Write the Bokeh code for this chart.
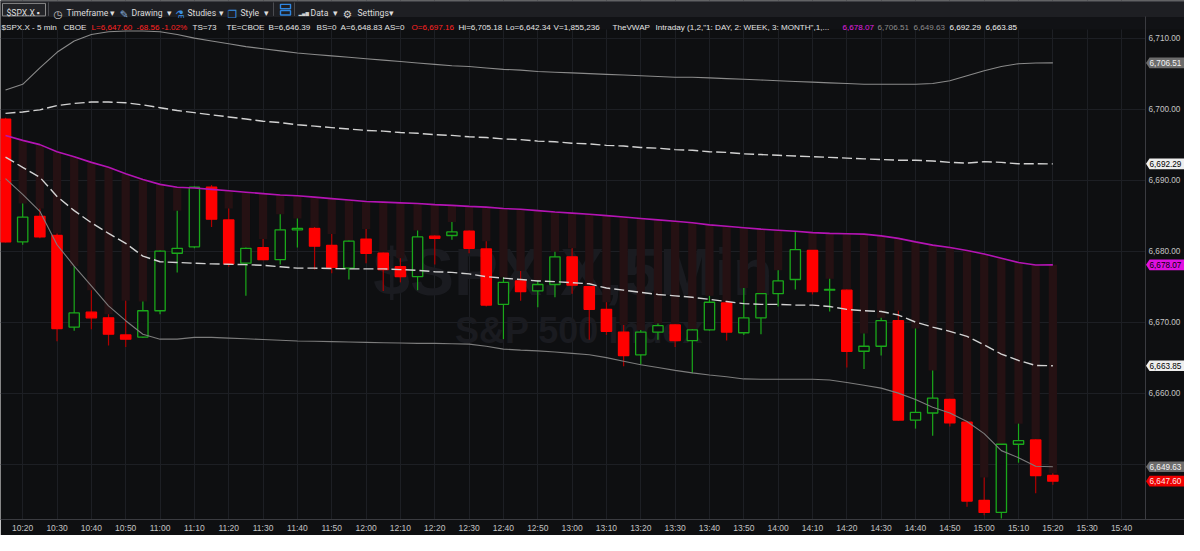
from bokeh.plotting import figure
from bokeh.embed import file_html
from bokeh.resources import INLINE
from bokeh.models import Range1d, FixedTicker, NumeralTickFormatter
from bokeh.core.properties import value

# ---------------- data ----------------
candle_times = ["10:15", "10:20", "10:25", "10:30", "10:35", "10:40", "10:45", "10:50", "10:55",
                "11:00", "11:05", "11:10", "11:15", "11:20", "11:25", "11:30", "11:35", "11:40",
                "11:45", "11:50", "11:55", "12:00", "12:05", "12:10", "12:15", "12:20", "12:25",
                "12:30", "12:35", "12:40", "12:45", "12:50", "12:55", "13:00", "13:05", "13:10",
                "13:15", "13:20", "13:25", "13:30", "13:35", "13:40", "13:45", "13:50", "13:55",
                "14:00", "14:05", "14:10", "14:15", "14:20", "14:25", "14:30", "14:35", "14:40",
                "14:45", "14:50", "14:55", "15:00", "15:05", "15:10", "15:15", "15:20"]

opens = [6698.6, 6681.3, 6684.9, 6682.2, 6669.3, 6671.4, 6670.6, 6668.2, 6667.9, 6671.6,
         6679.7, 6680.6, 6689.0, 6684.4, 6678.3, 6680.5, 6678.8, 6683.0, 6683.2, 6680.8,
         6677.6, 6681.7, 6679.7, 6677.8, 6676.4, 6682.1, 6682.2, 6682.8, 6680.3, 6672.5,
         6675.8, 6674.4, 6675.3, 6679.2, 6675.0, 6671.8, 6668.6, 6665.4, 6668.6, 6669.6,
         6667.4, 6668.9, 6672.7, 6668.5, 6670.6, 6674.0, 6676.0, 6680.1, 6674.5, 6674.5,
         6665.9, 6666.6, 6670.2, 6656.2, 6657.2, 6659.1, 6655.9, 6644.9, 6643.2, 6652.8,
         6653.4, 6648.4]
highs = [6698.8, 6686.7, 6686.0, 6682.5, 6677.9, 6674.5, 6671.1, 6673.0, 6672.9, 6680.1,
         6685.7, 6689.1, 6689.3, 6686.0, 6680.5, 6681.7, 6685.2, 6684.6, 6683.4, 6682.4,
         6681.5, 6683.1, 6679.8, 6679.0, 6682.9, 6682.2, 6684.1, 6682.9, 6681.4, 6676.3,
         6677.2, 6675.9, 6679.9, 6680.4, 6675.1, 6672.8, 6669.6, 6668.9, 6669.8, 6669.7,
         6669.0, 6673.7, 6672.8, 6674.8, 6674.0, 6677.3, 6682.7, 6680.1, 6676.1, 6674.6,
         6668.4, 6670.6, 6671.6, 6669.1, 6663.2, 6659.2, 6656.0, 6648.1, 6652.8, 6655.7,
         6653.5, 6648.7]
lows = [6681.2, 6680.9, 6681.8, 6667.3, 6668.8, 6669.0, 6666.7, 6666.5, 6667.8, 6671.1,
        6677.0, 6680.4, 6683.4, 6677.8, 6673.7, 6678.7, 6678.1, 6680.5, 6677.4, 6676.9,
        6676.0, 6678.3, 6674.4, 6675.6, 6674.5, 6678.1, 6681.6, 6679.7, 6672.2, 6667.6,
        6673.0, 6672.1, 6673.5, 6674.0, 6667.5, 6668.2, 6663.8, 6664.0, 6667.5, 6666.5,
        6662.8, 6668.8, 6667.4, 6668.2, 6668.3, 6672.2, 6674.6, 6673.9, 6671.5, 6663.6,
        6663.4, 6665.3, 6656.1, 6655.0, 6654.0, 6655.3, 6644.0, 6642.8, 6642.34, 6650.2,
        6645.9, 6647.1]
closes = [6681.3, 6684.8, 6682.0, 6669.1, 6671.3, 6670.6, 6668.3, 6667.6, 6671.6, 6680.0,
          6680.4, 6689.0, 6684.5, 6678.2, 6680.4, 6678.8, 6683.0, 6683.2, 6680.7, 6677.7,
          6681.4, 6679.7, 6677.4, 6676.4, 6682.0, 6681.8, 6682.7, 6680.4, 6672.4, 6675.6,
          6674.3, 6675.3, 6679.2, 6675.2, 6671.8, 6668.7, 6665.3, 6668.6, 6669.5, 6667.4,
          6668.9, 6672.8, 6668.6, 6670.6, 6674.0, 6675.8, 6680.2, 6674.3, 6674.6, 6665.9,
          6666.6, 6670.2, 6656.2, 6657.3, 6659.3, 6655.8, 6644.8, 6643.2, 6652.8, 6653.3,
          6648.4, 6647.6]

vwap = [6696.3, 6695.6, 6695.0, 6694.0, 6693.3, 6692.5, 6691.8, 6690.9, 6690.1, 6689.4,
        6689.0, 6688.9, 6688.7, 6688.5, 6688.3, 6688.1, 6687.9, 6687.8, 6687.6, 6687.4,
        6687.2, 6687.0, 6686.9, 6686.8, 6686.7, 6686.55, 6686.45, 6686.3, 6686.2, 6686.0,
        6685.9, 6685.7, 6685.5, 6685.35, 6685.2, 6685.0, 6684.8, 6684.6, 6684.4, 6684.2,
        6684.0, 6683.7, 6683.5, 6683.3, 6683.1, 6682.95, 6682.8, 6682.6, 6682.5, 6682.45,
        6682.4, 6682.15, 6681.8, 6681.3, 6680.85, 6680.5, 6680.1, 6679.6, 6679.0, 6678.4,
        6678.05, 6678.07]
upper2 = [6702.7, 6703.5, 6705.8, 6708.0, 6709.6, 6710.5, 6710.9, 6711.0, 6711.0, 6710.9,
          6710.5, 6710.0, 6709.6, 6709.2, 6708.8, 6708.5, 6708.2, 6707.9, 6707.7, 6707.5,
          6707.3, 6707.1, 6706.9, 6706.7, 6706.5, 6706.3, 6706.1, 6706.0, 6705.8, 6705.6,
          6705.5, 6705.3, 6705.2, 6705.1, 6705.0, 6704.9, 6704.8, 6704.7, 6704.6, 6704.5,
          6704.5, 6704.4, 6704.3, 6704.2, 6704.1, 6704.0, 6703.9, 6703.8, 6703.7, 6703.6,
          6703.5, 6703.5, 6703.5, 6703.5, 6703.6, 6704.0, 6704.7, 6705.4, 6706.0, 6706.4,
          6706.5, 6706.51]
upper1 = [6699.4, 6699.6, 6699.9, 6700.5, 6700.8, 6701.0, 6701.0, 6700.9, 6700.6, 6700.2,
          6699.8, 6699.5, 6699.2, 6698.9, 6698.6, 6698.3, 6698.1, 6697.8, 6697.6, 6697.4,
          6697.2, 6697.0, 6696.9, 6696.7, 6696.6, 6696.4, 6696.3, 6696.1, 6696.0, 6695.8,
          6695.7, 6695.5, 6695.4, 6695.2, 6695.1, 6694.9, 6694.8, 6694.6, 6694.5, 6694.3,
          6694.2, 6694.0, 6693.9, 6693.7, 6693.6, 6693.5, 6693.4, 6693.3, 6693.2, 6693.1,
          6693.0, 6692.9, 6692.8, 6692.8, 6692.7, 6692.5, 6692.4, 6692.6, 6692.5, 6692.3,
          6692.3, 6692.29]
lower1 = [6693.25, 6691.8, 6690.4, 6687.7, 6685.7, 6684.0, 6682.5, 6681.1, 6679.3, 6678.5,
          6678.4, 6678.3, 6678.2, 6678.15, 6678.1, 6678.0, 6677.8, 6677.6, 6677.6, 6677.55,
          6677.5, 6677.5, 6677.5, 6677.4, 6677.3, 6677.1, 6677.0, 6676.8, 6676.4, 6676.2,
          6676.0, 6675.8, 6675.7, 6675.55, 6675.4, 6674.8, 6674.5, 6674.2, 6673.9, 6673.7,
          6673.5, 6673.2, 6672.9, 6672.6, 6672.5, 6672.5, 6672.4, 6672.4, 6672.2, 6671.8,
          6671.6, 6671.5, 6671.0, 6670.0, 6669.3, 6668.7, 6668.0, 6666.8, 6665.5, 6664.6,
          6663.9, 6663.85]
lower2 = [6690.2, 6688.0, 6685.6, 6680.9, 6677.9, 6675.1, 6672.3, 6670.2, 6668.3, 6667.6,
          6667.6, 6667.85, 6667.85, 6667.75, 6667.65, 6667.55, 6667.45, 6667.35, 6667.3, 6667.25,
          6667.2, 6667.15, 6667.1, 6667.05, 6667.0, 6667.0, 6666.95, 6666.9, 6666.6, 6666.2,
          6666.05, 6665.95, 6665.8, 6665.6, 6665.4, 6665.0, 6664.5, 6664.0, 6663.6, 6663.2,
          6662.85, 6662.55, 6662.3, 6662.0, 6661.95, 6661.95, 6661.95, 6661.95, 6661.85, 6661.5,
          6661.1, 6660.7, 6660.0, 6659.1, 6658.0, 6657.2, 6656.0, 6654.3, 6651.9, 6650.9,
          6649.7, 6649.63]

tick_labels = ["10:20", "10:30", "10:40", "10:50", "11:00", "11:10", "11:20", "11:30", "11:40",
               "11:50", "12:00", "12:10", "12:20", "12:30", "12:40", "12:50", "13:00", "13:10",
               "13:20", "13:30", "13:40", "13:50", "14:00", "14:10", "14:20", "14:30", "14:40",
               "14:50", "15:00", "15:10", "15:20", "15:30", "15:40"]
price_ticks = [6650, 6660, 6670, 6680, 6690, 6700, 6710]

symbol = "$SPX.X"
description = "S&P 500 Index"
info_items = ["$SPX.X - 5 min", "CBOE", "L=6,647.60", "-68.56", "-1.02%", "TS=73", "TE=CBOE",
              "B=6,646.39", "BS=0", "A=6,648.83", "AS=0", "O=6,697.16", "Hi=6,705.18",
              "Lo=6,642.34", "V=1,855,236", "TheVWAP",
              'Intraday (1,2,"1: DAY, 2: WEEK, 3: MONTH",1,...']

# ---------------- layout helpers ----------------
BG = "#0e0f11"
FIG_W, FIG_H = 1184, 535
X0 = -0.292                 # left frame edge, in candle units
REF_STEP = 17.57            # reference px per candle
REF_AXIS = 1171.7           # reference px of the price-axis line
SCR_AXIS = 1145.0           # screen px of the price-axis line in this figure
PXD = REF_STEP * SCR_AXIS / REF_AXIS   # screen px per candle
Y0, Y1 = 6642.2, 6715.3
REF_H = 538.0


def px(ref_x):              # reference chart px -> data x
    return X0 + ref_x / REF_STEP


def sx(scr_x):              # screen px from frame left -> data x
    return X0 + scr_x / PXD


def py(y):                  # reference px from top -> data y
    return Y1 - y / REF_H * (Y1 - Y0)


def tpos(t):
    h, m = map(int, t.split(":"))
    return (h * 60 + m - (10 * 60 + 15)) // 5


XR = sx(FIG_W)
XA = sx(SCR_AXIS)
idx = [tpos(t) for t in candle_times]

p = figure(width=FIG_W, height=FIG_H, output_backend="svg", toolbar_location=None,
           x_range=Range1d(X0, XR), y_range=Range1d(Y0, Y1),
           y_axis_location="right", min_border=0)
p.background_fill_color = BG
p.border_fill_color = BG
p.outline_line_color = None

# axes
p.yaxis.ticker = FixedTicker(ticks=price_ticks)
p.yaxis.formatter = NumeralTickFormatter(format="0,0.00")
p.yaxis.major_label_overrides = {6650: ""}
p.yaxis.fixed_location = XA
p.yaxis.bounds = (Y0, py(17))
p.xaxis.ticker = FixedTicker(ticks=[tpos(t) for t in tick_labels])
p.xaxis.major_label_overrides = {tpos(t): t for t in tick_labels}
for ax in (p.xaxis[0], p.yaxis[0]):
    ax.axis_line_color = "#3a3b40"
    ax.major_tick_line_color = None
    ax.minor_tick_line_color = None
    ax.major_tick_out = 0
    ax.major_tick_in = 0
    ax.major_label_text_font = "Liberation Sans"
    ax.major_label_text_color = "#c4c4c4"
p.xaxis.major_label_text_font_size = "8.5px"
p.yaxis.major_label_text_font_size = "8.2px"
p.xaxis.major_label_standoff = 3
p.yaxis.major_label_standoff = 3
p.xgrid.grid_line_color = "#1d1f24"
p.ygrid.grid_line_color = "#1d1f24"

# watermark
p.text(x=[px(586)], y=[py(281)], text=[symbol + ",5Min"], text_align="center",
       text_baseline="alphabetic", text_font=value("Liberation Sans"),
       text_font_style="bold", text_font_size=value("66px"), text_color="#1a1b20")
p.text(x=[px(592)], y=[py(342)], text=[description], text_align="center",
       text_baseline="alphabetic", text_font=value("Liberation Sans"),
       text_font_style="bold", text_font_size=value("36px"), text_color="#1a1b20")

# cloud stripes: from VWAP down to the bar high
stripe_bottom = [min(h, v) for h, v in zip(highs, vwap)]
p.vbar(x=idx, width=0.48, top=vwap, bottom=stripe_bottom,
       fill_color="#251113", line_color=None)

# candles
up = [c >= o for o, c in zip(opens, closes)]
GREEN = "#1aa81a"
wick_col = [GREEN if u else "#b00000" for u in up]
p.segment(x0=idx, x1=idx, y0=lows, y1=highs, line_color=wick_col, line_width=1.2)
tops = [max(o, c) for o, c in zip(opens, closes)]
bots = [min(o, c) for o, c in zip(opens, closes)]
p.vbar(x=idx, width=0.6, top=tops, bottom=bots,
       fill_color=[BG if u else "#ff0000" for u in up],
       line_color=[GREEN if u else "#ff0000" for u in up], line_width=1.3)

# bands and vwap
p.line(idx, upper2, line_color="#8a8a8a", line_width=1.1)
p.line(idx, lower2, line_color="#7c7c7c", line_width=1.1)
p.line(idx, upper1, line_color="#d2d2d2", line_width=1.4, line_dash="10 4")
p.line(idx, lower1, line_color="#d2d2d2", line_width=1.4, line_dash="10 4")
p.line(idx, vwap, line_color="#b414b4", line_width=1.6)

# price-axis strip background (keeps the grid out of it)
p.quad(left=[XA], right=[XR], bottom=[Y0], top=[py(17)], fill_color=BG, line_color=None)

# price tags (last values of each series)
tag_vals = [upper2[-1], upper1[-1], vwap[-1], lower1[-1], lower2[-1], closes[-1]]
tag_bg = ["#6c6c6c", "#eeeeee", "#e010e0", "#eeeeee", "#6c6c6c", "#f00000"]
tag_fg = ["#f4f4f4", "#000000", "#000000", "#000000", "#f4f4f4", "#ffe6e6"]
half = 5.5 / REF_H * (Y1 - Y0)
xs, ys = [], []
for v in tag_vals:
    xs.append([XA + 0.5 / PXD, XA + 4 / PXD, XR, XR, XA + 4 / PXD])
    ys.append([v, v + half, v + half, v - half, v - half])
p.patches(xs, ys, fill_color=tag_bg, line_color=None)
p.text(x=[XA + 4 / PXD] * len(tag_vals), y=tag_vals, text=[f"{v:,.2f}" for v in tag_vals],
       text_font=value("Liberation Sans"), text_font_size=value("8.2px"),
       text_color=tag_fg, text_baseline="middle", text_align="left")

# ---------------- header ----------------
p.quad(left=[X0], right=[XR], bottom=[py(30)], top=[py(17)], fill_color="#111215", line_color=None)
p.quad(left=[X0], right=[XR], bottom=[py(17)], top=[Y1], fill_color="#1e1f23", line_color=None)
p.segment(x0=[X0], x1=[XR], y0=[py(0.6)], y1=[py(0.6)], line_color="#4a4b50", line_width=1.2)
# symbol box
p.quad(left=[sx(2)], right=[sx(45)], bottom=[py(16)], top=[py(3)], fill_color="#232428",
       line_color="#8a8a8a", line_width=1)
# separators
p.segment(x0=[sx(48), sx(273), sx(294)], x1=[sx(48), sx(273), sx(294)],
          y0=[py(2)] * 3, y1=[py(16)] * 3, line_color="#4a4b50", line_width=1)
# blue stacked icon
p.quad(left=[sx(280), sx(280)], right=[sx(290), sx(290)], bottom=[py(8.5), py(15)],
       top=[py(4), py(10.5)], fill_color=None, line_color="#2f86e0", line_width=1.4)

tb_text = [symbol, "▪", "Timeframe", "▾", "Drawing", "▾", "Studies", "▾", "Style", "▾",
           "Data", "▾", "Settings", "▾"]
tb_x = [6, 36, 66, 109, 131, 166, 187, 218, 240, 263, 310, 332, 357, 388]
p.text(x=[sx(v) for v in tb_x], y=[py(13.2)] * len(tb_x), text=tb_text,
       text_font=value("Roboto"), text_font_size=value("8.6px"),
       text_color="#dcdcdc", text_baseline="alphabetic", text_align="left")
icon_text = ["◷", "✎", "⚗", "❐", "▂▄▆", "⚙"]
icon_x = [53, 119, 175, 227, 298, 342]
icon_col = ["#cfcfcf", "#8fb6e0", "#3b8fe0", "#3b8fe0", "#cfcfcf", "#cfcfcf"]
icon_size = ["10.5px", "10.5px", "10.5px", "10.5px", "4.5px", "10.5px"]
p.text(x=[sx(v) for v in icon_x], y=[py(13.5)] * len(icon_x), text=icon_text,
       text_font=value("DejaVu Sans"), text_font_size=icon_size,
       text_color=icon_col, text_baseline="alphabetic", text_align="left")

RED_T = "#ff2323"
WHITE_T = "#e4e4e4"
info_x = [1, 63, 91, 136, 161, 192, 226, 268, 316, 340, 384, 411, 458, 505, 553, 612, 655]
info_col = [WHITE_T, WHITE_T, RED_T, RED_T, RED_T, WHITE_T, WHITE_T, WHITE_T, WHITE_T,
            WHITE_T, WHITE_T, RED_T, WHITE_T, WHITE_T, WHITE_T, WHITE_T, WHITE_T]
study_vals = [vwap[-1], upper2[-1], lower2[-1], upper1[-1], lower1[-1]]
study_x = [842, 877, 913, 949, 985]
study_col = ["#e020e0", "#8c8c8c", "#8c8c8c", "#f0f0f0", "#f0f0f0"]
p.text(x=[sx(v) for v in info_x + study_x], y=[py(27.6)] * (len(info_x) + len(study_x)),
       text=info_items + [f"{v:,.2f}" for v in study_vals],
       text_font=value("Liberation Sans"), text_font_size=value("8.1px"),
       text_color=info_col + study_col, text_baseline="alphabetic", text_align="left")

open("out.html", "w").write(file_html(p, INLINE))
